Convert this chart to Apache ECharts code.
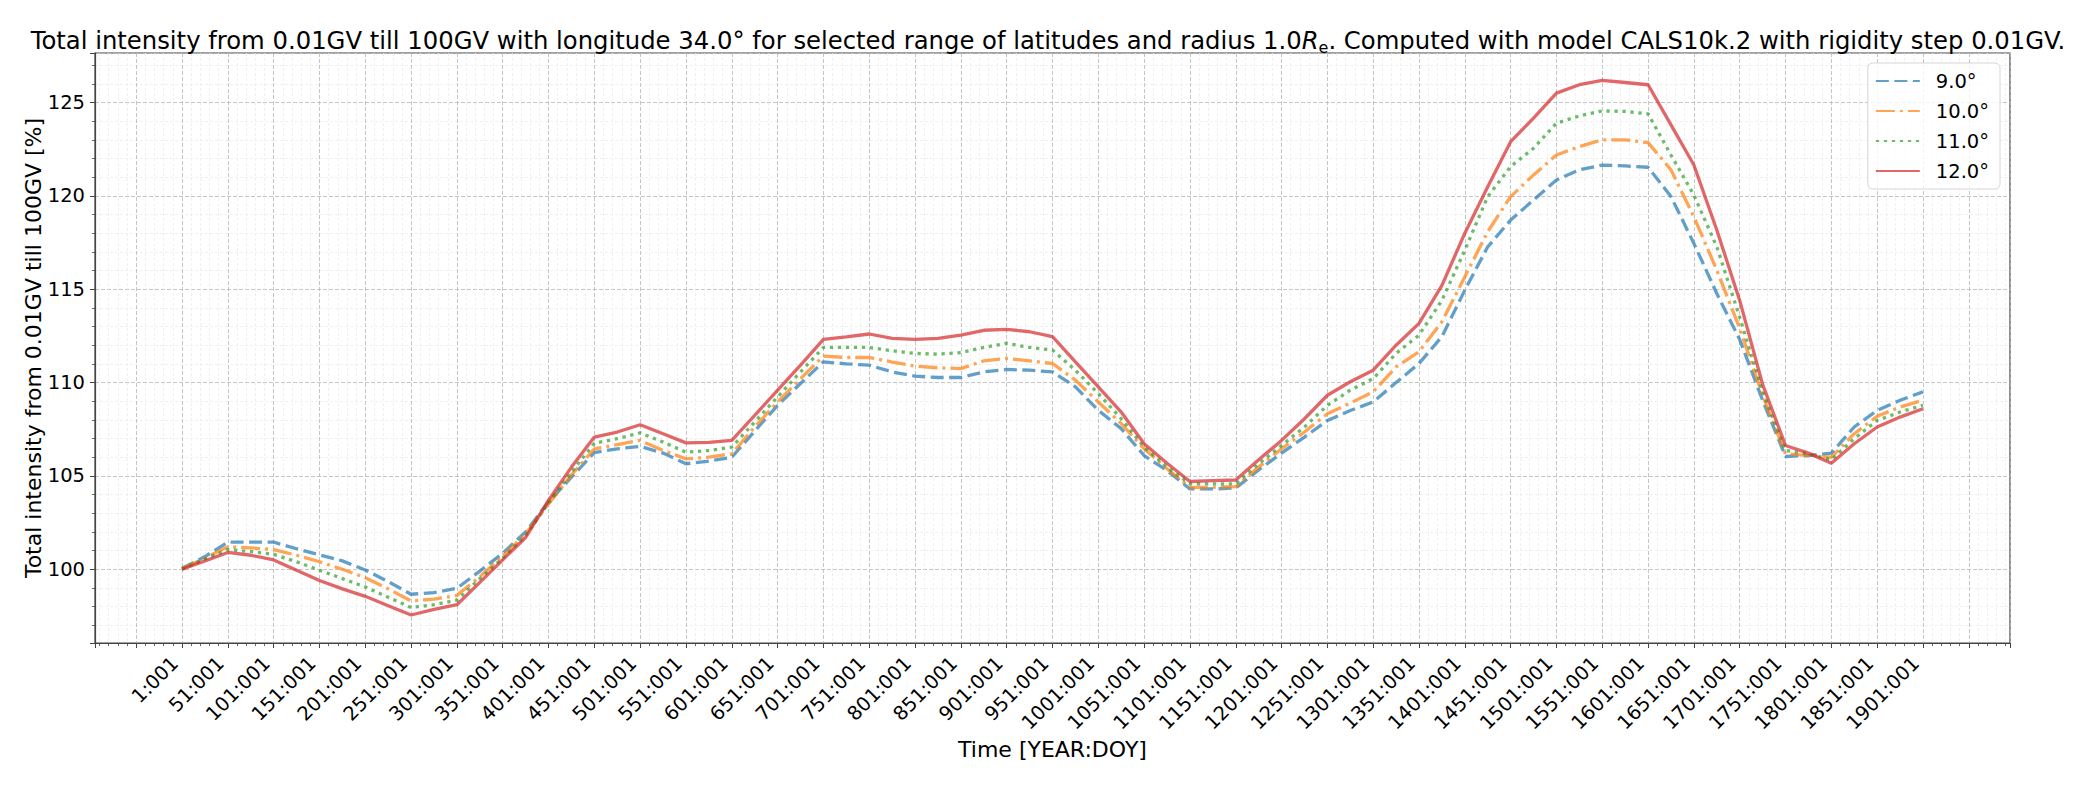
<!DOCTYPE html>
<html>
<head>
<meta charset="utf-8">
<script src="https://cdn.jsdelivr.net/npm/echarts@6/dist/echarts.min.js"></script>
<style>
html,body{margin:0;padding:0;background:#ffffff;}
#chart{width:2096px;height:785px;}
</style>
</head>
<body>
<div id="chart"></div>
<script>
// ---------------- data ----------------
const years = [1, 26, 51, 76, 101, 126, 151, 176, 201, 226, 251, 276, 301, 326, 351, 376, 401, 426, 451, 476,
  501, 526, 551, 576, 601, 626, 651, 676, 701, 726, 751, 776, 801, 826, 851, 876, 901, 926, 951, 976,
  1001, 1026, 1051, 1076, 1101, 1126, 1151, 1176, 1201, 1226, 1251, 1276, 1301, 1326, 1351, 1376, 1401, 1426, 1451, 1476,
  1501, 1526, 1551, 1576, 1601, 1626, 1651, 1676, 1701, 1726, 1751, 1776, 1801, 1826, 1851, 1876, 1901];

const lat9 = [100.05, 100.68, 101.45, 101.45, 101.45, 101.10, 100.77, 100.45, 99.96, 99.34, 98.66, 98.75, 98.98, 99.90, 100.86, 102.00, 103.60, 104.93, 106.25, 106.45,
  106.58, 106.22, 105.65, 105.79, 106.00, 107.40, 108.78, 109.95, 111.11, 111.00, 110.93, 110.57, 110.34, 110.27, 110.27, 110.57, 110.70, 110.66, 110.57, 109.77,
  108.51, 107.53, 106.09, 105.29, 104.30, 104.30, 104.35, 105.32, 106.22, 107.08, 107.97, 108.50, 108.96, 110.00, 111.02, 112.46, 114.95, 117.27, 118.70, 119.78,
  120.85, 121.39, 121.65, 121.60, 121.53, 119.96, 117.45, 114.77, 112.30, 109.05, 106.04, 106.09, 106.22, 107.62, 108.51, 109.05, 109.50];

const lat10 = [100.03, 100.60, 101.20, 101.15, 101.05, 100.75, 100.40, 100.00, 99.55, 98.95, 98.30, 98.40, 98.60, 99.60, 100.70, 101.90, 103.50, 105.05, 106.45, 106.68,
  106.90, 106.36, 105.91, 106.00, 106.18, 107.62, 108.96, 110.21, 111.42, 111.34, 111.34, 111.10, 110.88, 110.79, 110.75, 111.16, 111.29, 111.16, 111.02, 110.13,
  108.96, 107.80, 106.45, 105.38, 104.39, 104.39, 104.43, 105.47, 106.45, 107.35, 108.33, 108.90, 109.50, 110.84, 111.65, 113.26, 115.66, 118.08, 119.96, 121.12,
  122.19, 122.64, 123.00, 123.00, 122.85, 121.39, 118.88, 116.02, 112.90, 109.32, 106.18, 106.09, 106.00, 107.26, 108.19, 108.69, 109.05];

const lat11 = [100.00, 100.55, 101.05, 100.95, 100.80, 100.40, 99.95, 99.50, 99.05, 98.50, 97.95, 98.10, 98.35, 99.50, 100.60, 101.80, 103.55, 105.20, 106.75, 106.99,
  107.31, 106.81, 106.27, 106.36, 106.54, 107.89, 109.23, 110.57, 111.88, 111.88, 111.88, 111.70, 111.56, 111.52, 111.60, 111.88, 112.10, 111.88, 111.74, 110.66,
  109.41, 108.06, 106.54, 105.47, 104.57, 104.57, 104.57, 105.65, 106.63, 107.62, 108.78, 109.59, 110.21, 111.56, 112.54, 114.40, 117.09, 119.96, 121.57, 122.55,
  123.89, 124.28, 124.55, 124.52, 124.39, 122.19, 120.04, 117.27, 113.50, 109.50, 106.36, 106.18, 105.86, 106.99, 107.97, 108.42, 108.78];

const lat12 = [100.00, 100.45, 100.90, 100.75, 100.50, 99.95, 99.40, 98.95, 98.55, 98.05, 97.55, 97.85, 98.10, 99.30, 100.50, 101.70, 103.70, 105.47, 107.08, 107.35,
  107.74, 107.26, 106.77, 106.80, 106.90, 108.24, 109.59, 110.93, 112.31, 112.45, 112.60, 112.37, 112.31, 112.37, 112.54, 112.80, 112.85, 112.72, 112.46, 111.11,
  109.77, 108.42, 106.72, 105.68, 104.70, 104.75, 104.78, 105.86, 106.90, 108.06, 109.32, 110.04, 110.66, 112.00, 113.17, 115.20, 118.00, 120.49, 122.90, 124.16,
  125.50, 125.95, 126.18, 126.07, 125.95, 123.80, 121.65, 118.17, 114.40, 109.90, 106.63, 106.22, 105.68, 106.72, 107.62, 108.15, 108.60];

const seriesNames = ['9.0°', '10.0°', '11.0°', '12.0°'];
const seriesValues = [lat9, lat10, lat11, lat12];

// x axis runs in (year - YEAR_OFFSET) so the labelled ticks 1:001, 51:001 ... fall on multiples of 50
const YEAR_OFFSET = 1;
const xTickStep = 50;
const xFirstLabel = 1, xLastLabel = 1901;
const tickSuffix = ':001';

// ---------------- styling ----------------
const lineColors = ['rgba(31,119,180,0.7)', 'rgba(255,127,14,0.7)', 'rgba(44,160,44,0.7)', 'rgba(214,39,40,0.7)'];
const lineTypes = [[13, 5.5], [19, 5, 3, 5], [3.3, 4.7], 'solid'];
const FONT = 'DejaVu Sans';
const TICK_FS = 19.5;

const chart = echarts.init(document.getElementById('chart'), null, {renderer: 'svg', width: 2096, height: 785});

const series = seriesValues.map((vals, i) => ({
  name: seriesNames[i],
  type: 'line',
  data: years.map((y, j) => [y - YEAR_OFFSET, vals[j]]),
  showSymbol: false,
  symbol: 'none',
  smooth: false,
  z: 2 + i,
  lineStyle: {width: 3.3, color: lineColors[i], type: lineTypes[i], cap: 'butt'},
  itemStyle: {color: lineColors[i]},
  emphasis: {disabled: true}
}));

const option = {
  animation: false,
  backgroundColor: '#ffffff',
  title: {
    text: 'Total intensity from 0.01GV till 100GV with longitude 34.0° for selected range of latitudes and radius 1.0{i|R}{sub|e}. Computed with model CALS10k.2 with rigidity step 0.01GV.',
    left: 'center',
    top: 20,
    padding: [5, 5, 5, 14],
    textStyle: {
      fontFamily: FONT, fontSize: 24.3, fontWeight: 'normal', color: '#000', lineHeight: 30,
      rich: {
        i: {fontFamily: FONT, fontSize: 24.3, fontStyle: 'italic', color: '#000', lineHeight: 30},
        sub: {fontFamily: FONT, fontSize: 16, color: '#000', lineHeight: 16, verticalAlign: 'bottom'}
      }
    }
  },
  legend: {
    orient: 'vertical',
    right: 96,
    top: 63,
    data: seriesNames,
    itemWidth: 44,
    itemHeight: 14,
    itemGap: 6,
    padding: [6, 11, 6, 7],
    backgroundColor: 'rgba(255,255,255,0.8)',
    borderColor: '#d6d6d6',
    borderWidth: 1,
    borderRadius: 5,
    itemStyle: {opacity: 0},
    textStyle: {fontFamily: FONT, fontSize: TICK_FS, color: '#000', lineHeight: 24, padding: [0, 0, 0, 11]}
  },
  grid: {
    left: 95, right: 86, top: 53, bottom: 142,
    show: true, borderColor: '#444', borderWidth: 1.2,
    containLabel: false, outerBoundsMode: 'none'
  },
  xAxis: {
    type: 'value',
    min: -95, max: 1995,
    splitNumber: 40,
    name: 'Time [YEAR:DOY]',
    nameLocation: 'middle',
    nameGap: 95,
    nameMoveOverlap: false,
    nameTextStyle: {fontFamily: FONT, fontSize: 22, color: '#000'},
    axisLine: {show: true, onZero: false, lineStyle: {color: '#444', width: 1.2}},
    axisTick: {show: true, inside: false, length: 5, lineStyle: {color: '#444', width: 1}},
    minorTick: {show: true, splitNumber: 5, length: 3, lineStyle: {color: '#444', width: 0.8}},
    axisLabel: {
      rotate: 45, margin: 10, fontFamily: FONT, fontSize: TICK_FS, color: '#000',
      padding: [0, 10, 0, 0],
      formatter: v => {
        const yr = Math.round(v) + YEAR_OFFSET;
        return (yr >= xFirstLabel && yr <= xLastLabel && (yr - xFirstLabel) % xTickStep === 0) ? yr + tickSuffix : '';
      }
    },
    splitLine: {show: true, lineStyle: {color: '#b8b8b8', width: 0.8, type: [4, 2]}},
    minorSplitLine: {show: true, lineStyle: {color: '#e9e9e9', width: 0.7, type: [3, 2]}}
  },
  yAxis: {
    type: 'value',
    min: 96.05, max: 127.65,
    splitNumber: 5,
    name: 'Total intensity from 0.01GV till 100GV [%]',
    nameLocation: 'middle',
    nameRotate: 90,
    nameGap: 51,
    nameMoveOverlap: false,
    nameTextStyle: {fontFamily: FONT, fontSize: 22, color: '#000'},
    axisLine: {show: true, onZero: false, lineStyle: {color: '#444', width: 1.2}},
    axisTick: {show: true, inside: false, length: 5, lineStyle: {color: '#444', width: 1}},
    minorTick: {show: true, splitNumber: 5, length: 3, lineStyle: {color: '#444', width: 0.8}},
    axisLabel: {
      margin: 10, fontFamily: FONT, fontSize: TICK_FS, color: '#000',
      showMinLabel: false, showMaxLabel: false,
      formatter: v => (Math.abs(v - Math.round(v / 5) * 5) < 1e-6 ? String(Math.round(v)) : '')
    },
    splitLine: {show: true, lineStyle: {color: '#b8b8b8', width: 0.8, type: [4, 2]}},
    minorSplitLine: {show: true, lineStyle: {color: '#e9e9e9', width: 0.7, type: [3, 2]}}
  },
  series: series
};

chart.setOption(option);
</script>
</body>
</html>
